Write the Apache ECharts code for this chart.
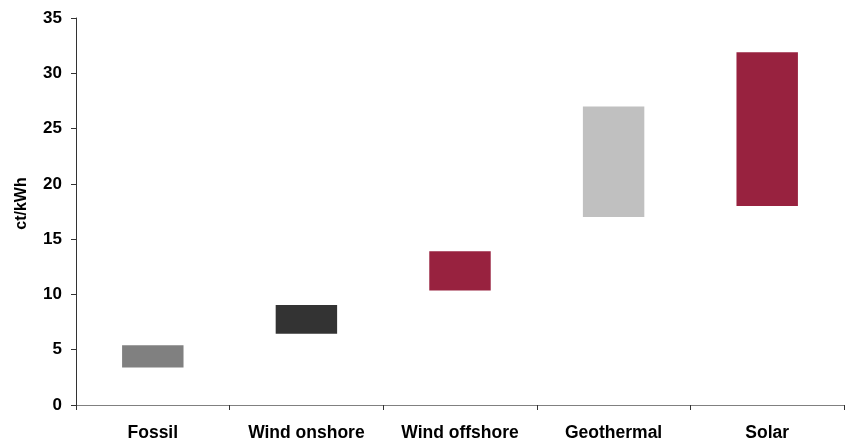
<!DOCTYPE html>
<html>
<head>
<meta charset="utf-8">
<script src="https://cdn.jsdelivr.net/npm/echarts@6/dist/echarts.min.js"></script>
<style>
  html, body { margin: 0; padding: 0; background: #fff; }
  #chart { width: 847px; height: 442px; }
</style>
</head>
<body>
<div id="chart"></div>
<script>
// cost ranges, ct/kWh
var categories = ['Fossil', 'Wind onshore', 'Wind offshore', 'Geothermal', 'Solar'];
var lowValues = [3.4, 6.45, 10.35, 17.0, 18.0];
var highValues = [5.4, 9.05, 13.9, 27.0, 31.9];
var barColors = ['#808080', '#333333', '#98223f', '#c0c0c0', '#98223f'];

var spans = highValues.map(function (h, i) {
    return { value: +(h - lowValues[i]).toFixed(2), itemStyle: { color: barColors[i] } };
});

var myChart = echarts.init(document.getElementById('chart'));
var font = 'Liberation Sans, Arial, sans-serif';

var option = {
    animation: false,
    grid: { left: 76, right: 3, top: 18, bottom: 37 },
    xAxis: {
        type: 'category',
        data: categories,
        axisLine: { lineStyle: { color: '#808080', width: 1 } },
        axisTick: { show: true, length: 5, lineStyle: { color: '#333' } },
        axisLabel: {
            margin: 19, color: '#000', fontWeight: 'bold',
            fontSize: 17.5, fontFamily: font
        },
        splitLine: { show: false }
    },
    yAxis: {
        type: 'value',
        min: 0, max: 35, interval: 5,
        name: 'ct/kWh',
        nameLocation: 'middle',
        nameGap: 46,
        nameTextStyle: {
            color: '#000', fontWeight: 'bold', fontSize: 16, fontFamily: font,
            padding: [0, 0, 0, 16]
        },
        axisLine: { show: true, lineStyle: { color: '#333', width: 1 } },
        axisTick: { show: true, length: 5, lineStyle: { color: '#333' } },
        axisLabel: {
            margin: 14, color: '#000', fontWeight: 'bold',
            fontSize: 17, fontFamily: font
        },
        splitLine: { show: false }
    },
    series: [
        {
            name: 'base',
            type: 'bar',
            stack: 'range',
            data: lowValues,
            barWidth: '40%',
            itemStyle: { color: 'transparent' },
            silent: true
        },
        {
            name: 'range',
            type: 'bar',
            stack: 'range',
            data: spans,
            barWidth: '40%'
        }
    ]
};

myChart.setOption(option);
</script>
</body>
</html>
